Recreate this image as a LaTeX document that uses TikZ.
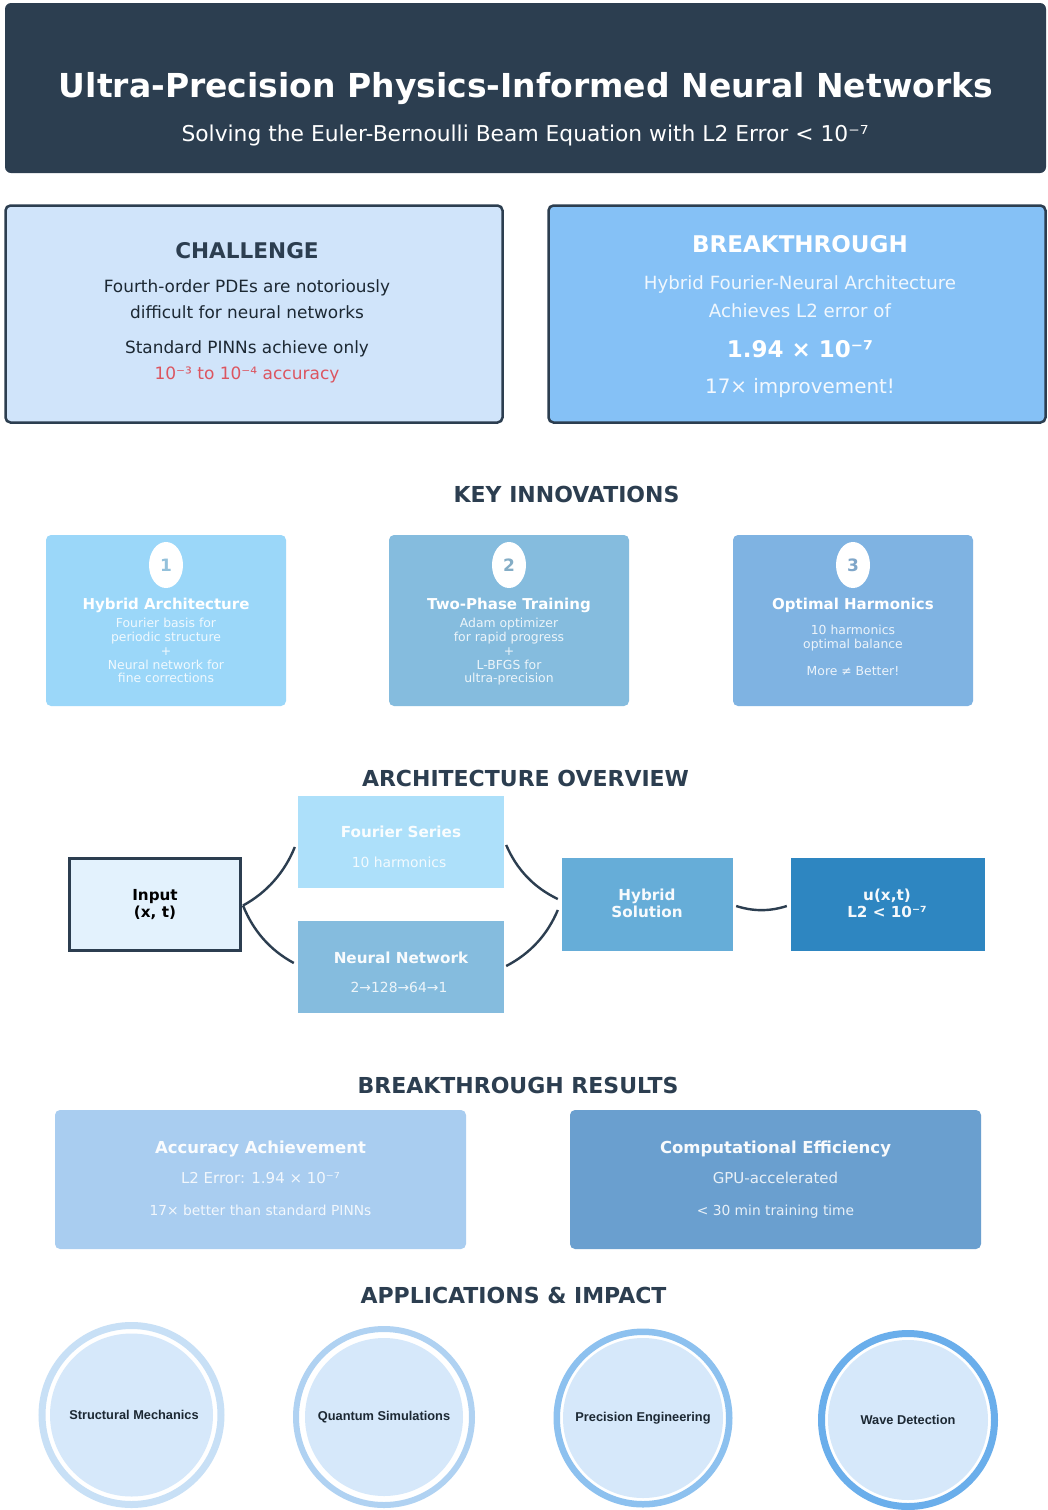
\documentclass[tikz,border=0pt]{standalone}
\usepackage{fontspec}
\setmainfont{DejaVu Sans}
\newfontfamily\arialfont{Liberation Sans}
\usetikzlibrary{shapes.geometric}
\definecolor{hdr}{HTML}{2C3E50}
\definecolor{chfill}{HTML}{D0E4FA}
\definecolor{btfill}{HTML}{85C1F6}
\definecolor{redtxt}{HTML}{DC5560}
\definecolor{darktxt}{HTML}{1C2833}
\definecolor{inA}{HTML}{9BD7F9}
\definecolor{inB}{HTML}{85BCDE}
\definecolor{inC}{HTML}{7FB3E2}
\definecolor{fouf}{HTML}{ADE0FA}
\definecolor{nnf}{HTML}{85BCDE}
\definecolor{hybf}{HTML}{66ADD8}
\definecolor{uf}{HTML}{2E86C1}
\definecolor{inpf}{HTML}{E3F2FD}
\definecolor{resA}{HTML}{A9CDF0}
\definecolor{resB}{HTML}{6A9FCF}
\definecolor{cin}{HTML}{D6E8FA}
\definecolor{ringA}{HTML}{C8E0F6}
\definecolor{ringB}{HTML}{B0D2F2}
\definecolor{ringC}{HTML}{8DC1EF}
\definecolor{ringD}{HTML}{6AAEEB}
\newcommand\myfs[1]{\fontsize{#1}{#1}\selectfont}
\begin{document}
\begin{tikzpicture}[x=1pt,y=-1pt,
  box/.style={rectangle,inner sep=0pt,draw=none},
  txt/.style={anchor=base,inner sep=0pt},
  sect/.style={txt,font=\myfs{22}\bfseries,text=hdr},
  innob/.style={box,rounded corners=5pt,minimum width=240pt,minimum height=171pt},
  numel/.style={ellipse,fill=white,inner sep=0pt,minimum width=34pt,minimum height=46pt,font=\myfs{17}\bfseries},
  innot/.style={txt,font=\myfs{15}\bfseries,text=white},
  innod/.style={txt,font=\myfs{12.4},text=white,text opacity=0.85},
  archb/.style={box,minimum width=206pt,minimum height=92pt},
  archt/.style={txt,font=\myfs{15.2}\bfseries,text=white,text opacity=0.95},
  archd/.style={txt,font=\myfs{13.9},text=white,text opacity=0.85},
  conn/.style={draw=hdr,line width=2.4pt},
  resb/.style={box,rounded corners=5pt,minimum width=411pt,minimum height=139pt},
  rest/.style={txt,font=\myfs{16.5}\bfseries,text=white,text opacity=0.95},
  resd/.style={txt,text=white,text opacity=0.85},
  ring/.style={circle,fill=white,inner sep=0pt},
  cinner/.style={circle,fill=cin,inner sep=0pt,font=\arialfont\myfs{12.8}\bfseries,text=darktxt}
]
\useasboundingbox[fill=white] (0,0) rectangle (1047,1510);

% header
\node[box,fill=hdr,rounded corners=6pt,minimum width=1041pt,minimum height=170pt] (hdr) at (525.5,88) {};
\node[txt,font=\myfs{33}\bfseries,text=white] (title) at (526,97) {Ultra-Precision Physics-Informed Neural Networks};
\node[txt,font=\myfs{21.8},text=white] (sub) at (525,141) {Solving the Euler-Bernoulli Beam Equation with L2 Error < 10⁻⁷};

% challenge
\node[box,fill=chfill,draw=hdr,line width=2.5pt,rounded corners=5pt,minimum width=497pt,minimum height=217pt] (chal) at (254,314) {};
\node[txt,font=\myfs{21.6}\bfseries,text=hdr] (chalt) at (247,258) {CHALLENGE};
\node[txt,font=\myfs{16.9},text=darktxt] (ch1) at (247,292) {Fourth-order PDEs are notoriously};
\node[txt,font=\myfs{16.9},text=darktxt] (ch2) at (247,318) {difficult for neural networks};
\node[txt,font=\myfs{16.9},text=darktxt] (ch3) at (247,353) {Standard PINNs achieve only};
\node[txt,font=\myfs{17},text=redtxt] (ch4) at (247,379) {10⁻³ to 10⁻⁴ accuracy};

% breakthrough
\node[box,fill=btfill,draw=hdr,line width=2.5pt,rounded corners=5pt,minimum width=497pt,minimum height=217pt] (brk) at (797,314) {};
\node[txt,font=\myfs{23}\bfseries,text=white] (brkt) at (800,252) {BREAKTHROUGH};
\node[txt,font=\myfs{18.2},text=white,text opacity=0.88] (bk1) at (800,289) {Hybrid Fourier-Neural Architecture};
\node[txt,font=\myfs{18.2},text=white,text opacity=0.88] (bk2) at (800,317) {Achieves L2 error of};
\node[txt,font=\myfs{23}\bfseries,text=white] (bk3) at (800,357) {1.94 × 10⁻⁷};
\node[txt,font=\myfs{19.9},text=white,text opacity=0.9] (bk4) at (800,393) {17× improvement!};

% key innovations
\node[sect] (kih) at (566.5,502) {KEY INNOVATIONS};

\node[innob,fill=inA] (i1) at (166,620.5) {};
\node[numel,text=inA!75!gray] (n1) at (166,565) {1};
\node[innot] (i1t) at (166,609) {Hybrid Architecture};
\node[innod] (i1a) at (166,627) {Fourier basis for};
\node[innod] (i1b) at (166,641) {periodic structure};
\node[innod] (i1c) at (166,655) {+};
\node[innod] (i1d) at (166,669) {Neural network for};
\node[innod] (i1e) at (166,682) {fine corrections};

\node[innob,fill=inB] (i2) at (509,620.5) {};
\node[numel,text=inB!75!gray] (n2) at (509,565) {2};
\node[innot] (i2t) at (509,609) {Two-Phase Training};
\node[innod] (i2a) at (509,627) {Adam optimizer};
\node[innod] (i2b) at (509,641) {for rapid progress};
\node[innod] (i2c) at (509,655) {+};
\node[innod] (i2d) at (509,669) {L-BFGS for};
\node[innod] (i2e) at (509,682) {ultra-precision};

\node[innob,fill=inC] (i3) at (853,620.5) {};
\node[numel,text=inC!75!gray] (n3) at (853,565) {3};
\node[innot] (i3t) at (853,609) {Optimal Harmonics};
\node[innod] (i3a) at (853,634) {10 harmonics};
\node[innod] (i3b) at (853,648) {optimal balance};
\node[innod] (i3c) at (853,675) {More ≠ Better!};

% architecture
\node[sect] (ah) at (525.5,786) {ARCHITECTURE OVERVIEW};

\node[box,fill=inpf,draw=hdr,line width=3pt,minimum width=171pt,minimum height=92pt] (inp) at (155,904.5) {};
\node[txt,font=\myfs{15.2}\bfseries,text=black] (inp1) at (155,900) {Input};
\node[txt,font=\myfs{15.2}\bfseries,text=black] (inp2) at (155,917) {(x, t)};

\node[archb,fill=fouf] (fou) at (401,842) {};
\node[archt] (fou1) at (401,837) {Fourier Series};
\node[archd] (fou2) at (399,867) {10 harmonics};

\node[archb,fill=nnf] (nn) at (401,967) {};
\node[archt] (nn1) at (401,963) {Neural Network};
\node[archd] (nn2) at (399,992) {2→128→64→1};

\node[box,fill=hybf,minimum width=171pt,minimum height=93pt] (hyb) at (647.5,904.5) {};
\node[archt] (hyb1) at (647,900) {Hybrid};
\node[archt] (hyb2) at (647,917) {Solution};

\node[box,fill=uf,minimum width=194pt,minimum height=93pt] (uu) at (888,904.5) {};
\node[archt] (uu1) at (887,900) {u(x,t)};
\node[archt] (uu2) at (887,917) {L2 < 10⁻⁷};

\draw[conn] ([xshift=1pt,yshift=-1pt]inp.east) .. controls +(24,-13) and +(-10,25) .. ([xshift=-3pt,yshift=-5pt]fou.west);
\draw[conn] ([xshift=1pt,yshift=-1pt]inp.east) .. controls +(10,25) and +(-24,-13) .. ([xshift=-4pt,yshift=4pt]nn.west);
\draw[conn] ([xshift=2pt,yshift=-3pt]fou.east) .. controls +(10.5,24.5) and +(-24,-11.5) .. ([xshift=-4pt,yshift=5.5pt]hyb.west);
\draw[conn] ([xshift=2pt,yshift=1pt]nn.east) .. controls +(24,-12.5) and +(-10.5,25) .. ([xshift=-4pt,yshift=-5.5pt]hyb.west);
\draw[conn] ([xshift=3pt,yshift=-1.5pt]hyb.east) .. controls +(17,5.5) and +(-17,5.5) .. ([xshift=-4pt,yshift=-1.5pt]uu.west);

% results
\node[sect] (rh) at (518,1093) {BREAKTHROUGH RESULTS};
\node[resb,fill=resA] (r1) at (260.5,1179.5) {};
\node[rest] (r1t) at (260.5,1153) {Accuracy Achievement};
\node[resd,font=\myfs{15}] (r1a) at (260.5,1183) {L2 Error: 1.94 × 10⁻⁷};
\node[resd,font=\myfs{13.8}] (r1b) at (260.5,1215) {17× better than standard PINNs};
\node[resb,fill=resB] (r2) at (775.5,1179.5) {};
\node[rest] (r2t) at (775.5,1153) {Computational Efficiency};
\node[resd,font=\myfs{15}] (r2a) at (775.5,1183) {GPU-accelerated};
\node[resd,font=\myfs{13.8}] (r2b) at (775.5,1215) {< 30 min training time};

% applications
\node[sect] (aph) at (513.5,1303) {APPLICATIONS \& IMPACT};
\node[ring,draw=ringA,line width=7pt,minimum size=179pt] (c1r) at (131.5,1415) {};
\node[cinner,minimum size=163pt] (c1) at (131.5,1415) {};
\node[txt,font=\arialfont\myfs{12.8}\bfseries,text=darktxt] (c1t) at (134,1419.5) {Structural Mechanics};
\node[ring,draw=ringB,line width=6pt,minimum size=176pt] (c2r) at (384,1417) {};
\node[cinner,minimum size=158pt] (c2) at (384,1417) {Quantum Simulations};
\node[ring,draw=ringC,line width=6.5pt,minimum size=172.5pt] (c3r) at (643,1418) {};
\node[cinner,minimum size=160pt] (c3) at (643,1418) {Precision Engineering};
\node[ring,draw=ringD,line width=7pt,minimum size=173pt] (c4r) at (908,1420) {};
\node[cinner,minimum size=160pt] (c4) at (908,1420) {Wave Detection};
\end{tikzpicture}
\end{document}
